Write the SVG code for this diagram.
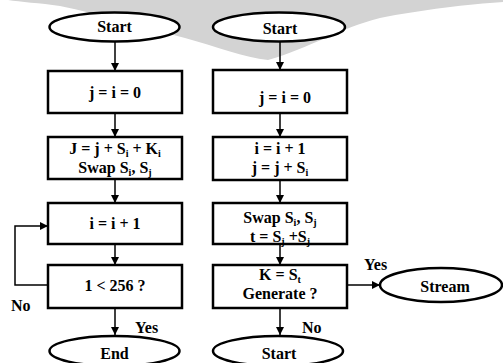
<svg xmlns="http://www.w3.org/2000/svg" width="503" height="363" viewBox="0 0 503 363">
<defs>
<marker id="ah" viewBox="0 0 10 10" refX="10" refY="5" markerWidth="8" markerHeight="8" markerUnits="userSpaceOnUse" orient="auto">
<path d="M0,0 L10,5 L0,10 z" fill="#000"/>
</marker>
<style>
.box{fill:#fff;stroke:#000;stroke-width:2.5}
.term{fill:#fff;stroke:#000;stroke-width:2.5}
.t{font-family:"Liberation Serif","Times New Roman",serif;font-weight:bold;font-size:16px;fill:#000;text-anchor:middle}
.l{font-family:"Liberation Serif","Times New Roman",serif;font-weight:bold;font-size:16px;fill:#000}
.c{fill:none;stroke:#000;stroke-width:1.5;marker-end:url(#ah)}
.s{font-size:10px}
</style>
</defs>
<rect width="503" height="363" fill="#fff"/>
<path id="watermark" d="M8,0 L503,0 L503,2 C470,4 420,10 380,18 C340,28 310,48 268,60 C245,58 215,46 185,38 C145,28 100,14 60,6 C40,3 20,2 8,0 z" fill="#d3d3d3"/>
<g id="connectors">
<path class="c" d="M115,42 V71"/>
<path class="c" d="M115,113 V137"/>
<path class="c" d="M115,179 V203"/>
<path class="c" d="M115,244 V265"/>
<path class="c" d="M115,308 V335"/>
<path class="c" d="M48,285 H15 V226 H48"/>
<path class="c" d="M280,42 V70"/>
<path class="c" d="M280,113 V137"/>
<path class="c" d="M280,180 V203"/>
<path class="c" d="M280,244 V265"/>
<path class="c" d="M280,308 V335"/>
<path class="c" d="M347,285 H380"/>
<text class="l" x="11" y="311">No</text>
<text class="l" x="135" y="333">Yes</text>
<text class="l" x="364" y="270">Yes</text>
<text class="l" x="302" y="333">No</text>
</g>
<g id="start1">
<ellipse class="term" cx="114.5" cy="27" rx="65" ry="14.5"/>
<text class="t" x="114.5" y="32">Start</text>
</g>
<g id="init1">
<rect class="box" x="48" y="71" width="134" height="42"/>
<text class="t" x="115" y="97.5">j = i = 0</text>
</g>
<g id="ksa">
<rect class="box" x="48" y="137" width="134" height="42"/>
<text class="t" x="115" y="154">J = j + S<tspan class="s" dy="3">i</tspan><tspan dy="-3"> + K</tspan><tspan class="s" dy="3">i</tspan></text>
<text class="t" x="115" y="172.5">Swap S<tspan class="s" dy="3">i</tspan><tspan dy="-3">, S</tspan><tspan class="s" dy="3">j</tspan></text>
</g>
<g id="inc1">
<rect class="box" x="48" y="203" width="134" height="41"/>
<text class="t" x="115" y="229">i = i + 1</text>
</g>
<g id="cond1">
<rect class="box" x="48" y="265" width="134" height="43"/>
<text class="t" x="115" y="291">1 &lt; 256 ?</text>
</g>
<g id="end1">
<ellipse class="term" cx="114.5" cy="351" rx="65" ry="15"/>
<text class="t" x="114.5" y="359">End</text>
</g>
<g id="start2">
<ellipse class="term" cx="279" cy="27" rx="66" ry="14.5"/>
<text class="t" x="280" y="34">Start</text>
</g>
<g id="init2">
<rect class="box" x="213" y="70" width="134" height="43"/>
<text class="t" x="285" y="103">j = i = 0</text>
</g>
<g id="prga">
<rect class="box" x="213" y="137" width="134" height="43"/>
<text class="t" x="280" y="154">i = i + 1</text>
<text class="t" x="280" y="173">j = j + S<tspan class="s" dy="3">i</tspan></text>
</g>
<g id="swap2">
<rect class="box" x="213" y="203" width="134" height="41"/>
<text class="t" x="280" y="223">Swap S<tspan class="s" dy="3">i</tspan><tspan dy="-3">, S</tspan><tspan class="s" dy="3">j</tspan></text>
<text class="t" x="280" y="242">t = S<tspan class="s" dy="3">j</tspan><tspan dy="-3"> +S</tspan><tspan class="s" dy="3">j</tspan></text>
</g>
<g id="gen">
<rect class="box" x="213" y="265" width="134" height="43"/>
<text class="t" x="280" y="280">K = S<tspan class="s" dy="3">t</tspan></text>
<text class="t" x="280" y="299">Generate ?</text>
</g>
<g id="stream">
<ellipse class="term" cx="441" cy="285" rx="61" ry="17"/>
<text class="t" x="445" y="292">Stream</text>
</g>
<g id="start3">
<ellipse class="term" cx="278" cy="351" rx="65" ry="15"/>
<text class="t" x="279" y="359">Start</text>
</g>
</svg>
